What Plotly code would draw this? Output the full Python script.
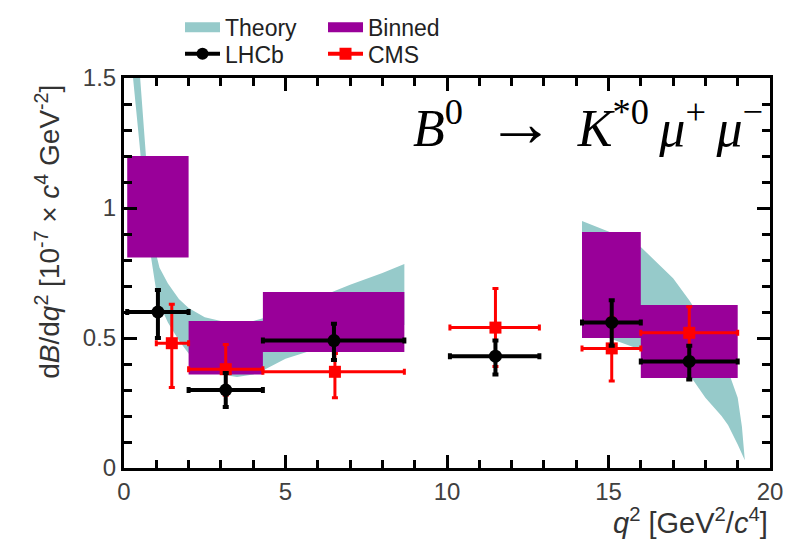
import plotly.graph_objects as go

# ---------------- data ----------------
# Theory band, low-q2 region
th1_x = [0.28, 0.5, 0.68, 0.85, 1.0, 1.1, 1.36, 1.7, 2.0, 2.5, 3.0, 3.5, 4.0, 4.3, 5.0, 6.0, 7.0, 8.0, 8.68]
th1_hi = [1.75, 1.5, 1.2, 0.95, 0.82, 0.77, 0.71, 0.65, 0.615, 0.58, 0.565, 0.56, 0.565, 0.575, 0.6, 0.655, 0.705, 0.75, 0.785]
th1_lo = [1.5, 1.22, 0.95, 0.8, 0.68, 0.63, 0.56, 0.49, 0.44, 0.39, 0.36, 0.35, 0.36, 0.375, 0.42, 0.46, 0.5, 0.53, 0.55]
# Theory band, high-q2 region
th2_x = [14.18, 15.0, 16.0, 16.5, 17.0, 17.5, 18.0, 18.5, 18.7, 19.0, 19.13, 19.22]
th2_hi = [0.95, 0.91, 0.85, 0.79, 0.73, 0.645, 0.55, 0.43, 0.375, 0.27, 0.16, 0.03]
th2_lo = [0.54, 0.5, 0.455, 0.43, 0.4, 0.36, 0.27, 0.2, 0.165, 0.09, 0.055, 0.03]

# Binned predictions
bin_lo_x = [0.1, 2.0, 4.3, 14.18, 16.0]
bin_hi_x = [2.0, 4.3, 8.68, 16.0, 19.0]
bin_lo_y = [0.81, 0.36, 0.446, 0.50, 0.346]
bin_hi_y = [1.20, 0.565, 0.677, 0.908, 0.627]

# LHCb
lhcb_x = [1.05, 3.15, 6.5, 11.5, 15.1, 17.5]
lhcb_xlo = [0.1, 2.0, 4.3, 10.09, 14.18, 16.0]
lhcb_xhi = [2.0, 4.3, 8.68, 12.86, 16.0, 19.0]
lhcb_y = [0.60, 0.30, 0.49, 0.43, 0.56, 0.41]
lhcb_up = [0.085, 0.065, 0.065, 0.06, 0.085, 0.06]
lhcb_dn = [0.10, 0.065, 0.075, 0.07, 0.09, 0.07]

# CMS
cms_x = [1.48, 3.15, 6.53, 11.5, 15.1, 17.5]
cms_xlo = [1.0, 2.0, 4.3, 10.09, 14.18, 16.0]
cms_xhi = [2.0, 4.3, 8.68, 12.86, 16.0, 19.0]
cms_y = [0.48, 0.38, 0.37, 0.54, 0.46, 0.52]
cms_up = [0.15, 0.095, 0.07, 0.15, 0.12, 0.10]
cms_dn = [0.17, 0.10, 0.10, 0.15, 0.125, 0.10]

# ---------------- style ----------------
THEORY = "#96CACA"
PURPLE = "#990099"
RED = "#FF0000"
FONT = "Liberation Sans"

fig = go.Figure()

# Theory band: one polygon per region, separated by a gap
band_x, band_y = [], []
for xs, hi, lo in [(th1_x, th1_hi, th1_lo), (th2_x, th2_hi, th2_lo)]:
    band_x += xs + xs[::-1] + [xs[0], None]
    band_y += hi + lo[::-1] + [hi[0], None]
fig.add_trace(go.Scatter(x=band_x, y=band_y, fill="toself", mode="lines",
                         line=dict(width=0, color=THEORY), fillcolor=THEORY,
                         showlegend=False, hoverinfo="skip"))

# Binned boxes (drawn above the band)
box_x, box_y = [], []
for x0, x1, y0, y1 in zip(bin_lo_x, bin_hi_x, bin_lo_y, bin_hi_y):
    box_x += [x0, x1, x1, x0, x0, None]
    box_y += [y0, y0, y1, y1, y0, None]
fig.add_trace(go.Scatter(x=box_x, y=box_y, fill="toself", mode="lines",
                         line=dict(width=0, color=PURPLE), fillcolor=PURPLE,
                         showlegend=False, hoverinfo="skip"))

# CMS
fig.add_trace(go.Scatter(
    x=cms_x, y=cms_y, mode="markers",
    marker=dict(symbol="square", size=12, color=RED),
    error_x=dict(type="data", symmetric=False,
                 array=[h - c for h, c in zip(cms_xhi, cms_x)],
                 arrayminus=[c - l for l, c in zip(cms_xlo, cms_x)],
                 color=RED, thickness=3, width=3),
    error_y=dict(type="data", symmetric=False, array=cms_up, arrayminus=cms_dn,
                 color=RED, thickness=3, width=3),
    showlegend=False))

# LHCb
fig.add_trace(go.Scatter(
    x=lhcb_x, y=lhcb_y, mode="markers",
    marker=dict(symbol="circle", size=13, color="black"),
    error_x=dict(type="data", symmetric=False,
                 array=[h - c for h, c in zip(lhcb_xhi, lhcb_x)],
                 arrayminus=[c - l for l, c in zip(lhcb_xlo, lhcb_x)],
                 color="black", thickness=4, width=3),
    error_y=dict(type="data", symmetric=False, array=lhcb_up, arrayminus=lhcb_dn,
                 color="black", thickness=4, width=3),
    showlegend=False))

# legend entries
fig.add_trace(go.Scatter(x=[None], y=[None], mode="lines", name="Theory",
                         line=dict(color=THEORY, width=16), legend="legend"))
fig.add_trace(go.Scatter(x=[None], y=[None], mode="lines", name="Binned",
                         line=dict(color=PURPLE, width=16), legend="legend"))
fig.add_trace(go.Scatter(x=[None], y=[None], mode="lines+markers", name="LHCb",
                         line=dict(color="black", width=4),
                         marker=dict(symbol="circle", size=12, color="black"),
                         legend="legend2"))
fig.add_trace(go.Scatter(x=[None], y=[None], mode="lines+markers", name="CMS",
                         line=dict(color=RED, width=4),
                         marker=dict(symbol="square", size=12, color=RED),
                         legend="legend2"))

axis_common = dict(
    showline=True, linecolor="black", linewidth=3, mirror="ticks",
    ticks="inside", tickcolor="black", tickwidth=3, ticklen=13,
    showgrid=False, zeroline=False,
    tickfont=dict(family=FONT, size=24, color="#404040"),
)

fig.update_xaxes(range=[0, 20], dtick=5, tick0=0,
                 minor=dict(dtick=1, ticks="inside", ticklen=8, tickwidth=2.5, tickcolor="black"),
                 **axis_common)
fig.update_yaxes(range=[0, 1.5], dtick=0.5, tick0=0,
                 minor=dict(dtick=0.1, ticks="inside", ticklen=8, tickwidth=2.5, tickcolor="black"),
                 **axis_common)

legend_common = dict(orientation="h", xanchor="left", yanchor="top",
                     font=dict(family=FONT, size=23, color="#222222"),
                     bgcolor="rgba(0,0,0,0)", entrywidth=93, entrywidthmode="pixels",
                     tracegroupgap=0, itemwidth=35)

title_text = ("<i>B</i><sup>0</sup>\u00a0\u2009"
              "<span style=\"font-size:68px\">→</span>"
              "\u00a0\u2009<i>K</i><sup>*0</sup>\u2009<i>μ</i><sup>+</sup>\u2009<i>μ</i><sup>−</sup>")

fig.update_layout(
    width=786, height=540,
    margin=dict(l=124, r=16, t=78, b=72, autoexpand=False),
    paper_bgcolor="white", plot_bgcolor="white",
    legend=dict(x=0.0867, y=1.185, **legend_common),
    legend2=dict(x=0.0867, y=1.117, **legend_common),
    annotations=[
        dict(text=title_text,
             xref="paper", yref="paper", x=0.992, y=0.885, xanchor="right", yanchor="middle",
             showarrow=False, font=dict(family="Liberation Serif", size=52, color="black")),
        dict(text="d<i>B</i>/d<i>q</i><sup>2</sup> [10<sup>-7</sup> × <i>c</i><sup>4</sup> GeV<sup>-2</sup>]",
             xref="paper", yref="paper", x=-0.118, y=0.605, xanchor="center", yanchor="middle",
             textangle=-90, showarrow=False, font=dict(family=FONT, size=28, color="#333333")),
        dict(text="<i>q</i><sup>2</sup> [GeV<sup>2</sup>/<i>c</i><sup>4</sup>]",
             xref="paper", yref="paper", x=1.0, y=-0.136, xanchor="right", yanchor="middle",
             showarrow=False, font=dict(family=FONT, size=29, color="#333333")),
    ],
)

fig.write_html("out.html", config={"displayModeBar": False},
               post_script="document.body.style.margin='0';")
